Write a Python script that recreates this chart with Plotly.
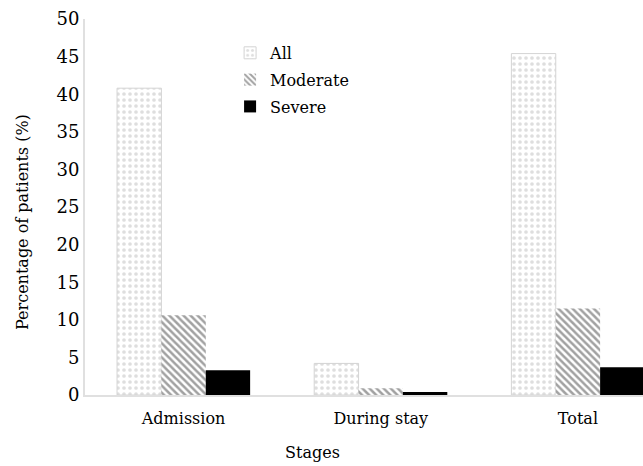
import plotly.graph_objects as go

stages = ["Admission", "During stay", "Total"]
series_names = ["All", "Moderate", "Severe"]
all_vals = [40.8, 4.2, 45.4]
moderate_vals = [10.6, 0.9, 11.5]
severe_vals = [3.3, 0.4, 3.7]
y_ticks = [0, 5, 10, 15, 20, 25, 30, 35, 40, 45, 50]

FONT = "DejaVu Serif"

fig = go.Figure()
fig.add_trace(go.Bar(
    x=stages, y=all_vals, name=series_names[0], legendgroup="a",
    marker=dict(color="white", line=dict(color="#d4d4d4", width=1),
                pattern=dict(shape=".", fgcolor="#bdbdbd", bgcolor="white", size=6, solidity=0.3)),
))
fig.add_trace(go.Bar(
    x=stages, y=moderate_vals, name=series_names[1], legendgroup="b",
    marker=dict(color="white", line=dict(color="#bbbbbb", width=0),
                pattern=dict(shape="\\", fgcolor="#444444", bgcolor="white", size=5, solidity=0.5)),
))
fig.add_trace(go.Bar(
    x=stages, y=severe_vals, name=series_names[2], legendgroup="c",
    marker=dict(color="black", line=dict(color="black", width=0)),
))

fig.update_layout(
    width=643, height=466,
    margin=dict(l=85, r=0, t=19, b=71),
    paper_bgcolor="white", plot_bgcolor="white",
    barmode="group", bargap=0.325, bargroupgap=0,
    font=dict(family=FONT, size=16, color="black"),
    showlegend=True,
    legend=dict(x=0.26, y=0.955, xanchor="left", yanchor="top",
                bgcolor="rgba(0,0,0,0)", font=dict(family=FONT, size=16),
                itemwidth=30, tracegroupgap=3, traceorder="grouped"),
    annotations=[
        dict(text="Percentage of patients (%)", textangle=-90, showarrow=False,
             xref="paper", yref="paper", x=-0.113, y=0.46, xanchor="center", yanchor="middle",
             font=dict(family=FONT, size=16)),
        dict(text="Stages", showarrow=False,
             xref="paper", yref="paper", x=(312 - 85) / 558, y=-(452 - 395) / 376,
             xanchor="center", yanchor="middle", font=dict(family=FONT, size=16)),
    ],
)
fig.update_xaxes(
    range=[-0.5, 2.33], showgrid=False, zeroline=False, automargin=False,
    showline=True, linecolor="#e0e0e0", linewidth=2, ticks="",
    ticklabelstandoff=8,
    tickfont=dict(family=FONT, size=16),
)
fig.update_yaxes(
    range=[0, 50], tickvals=y_ticks, showgrid=False, zeroline=False, automargin=False,
    showline=True, linecolor="#e0e0e0", linewidth=2,
    ticks="",
    tickfont=dict(family=FONT, size=18),
)

fig.write_html("out.html", config={"displayModeBar": False},
               post_script="document.body.style.margin='0';")
